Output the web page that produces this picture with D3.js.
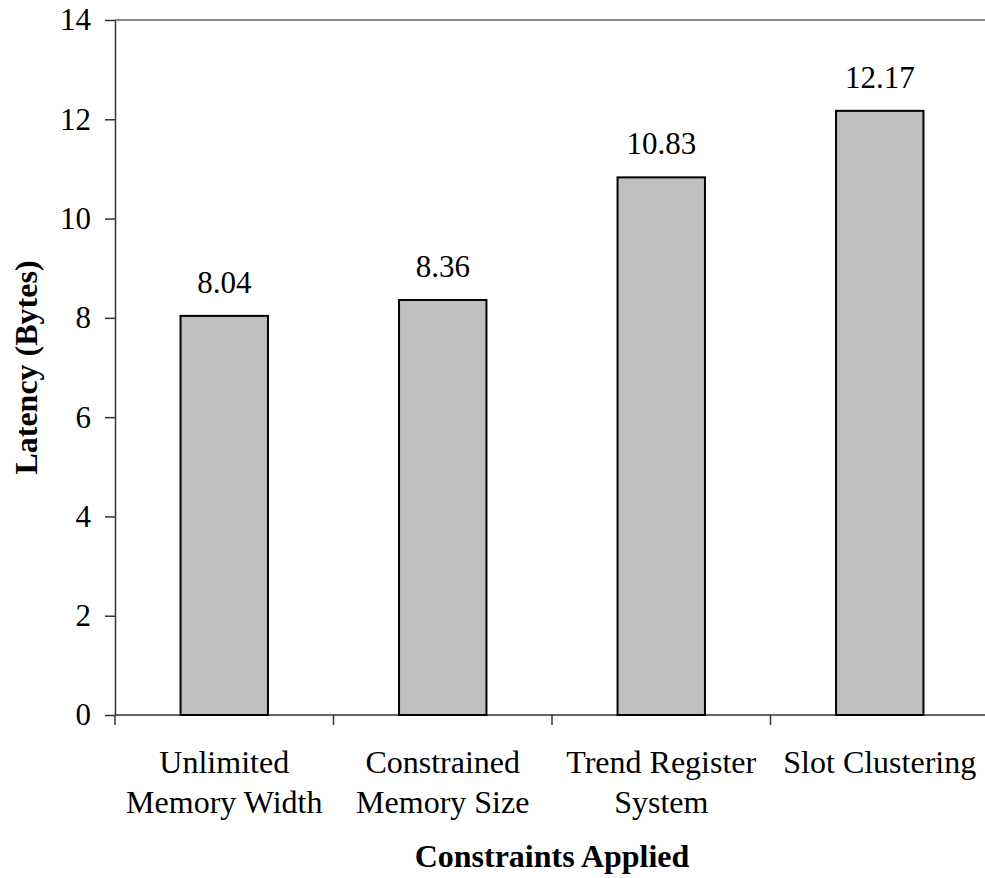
<html>
<head>
<style>
    body { margin: 0; background: #fff; }
    text { font-family: "Liberation Serif", "Times New Roman", serif; fill: #000; }
    .axis path, .axis line { stroke: #333; stroke-width: 1.5; }
    .bar { fill: #c0c0c0; stroke: #000; stroke-width: 2; }
</style>
</head>
<body>
<svg id="chart" width="985" height="878"></svg>
<script src="https://d3js.org/d3.v7.min.js"></script>
<script>
    let categories = [["Unlimited", "Memory Width"], ["Constrained", "Memory Size"], ["Trend Register", "System"], ["Slot Clustering"]]
    let values = [8.04, 8.36, 10.83, 12.17]
    let yTicks = [0, 2, 4, 6, 8, 10, 12, 14]

    let svg = d3.select("#chart")
    let plotLeft = 115, plotRight = 989, plotTop = 20, plotBottom = 715
    let fs = "31px"

    let keys = categories.map(c => c.join(" "))
    let x = d3.scaleBand().domain(keys).range([plotLeft, plotRight]).paddingInner(0.6).paddingOuter(0.3)
    let y = d3.scaleLinear().domain([0, 14]).range([plotBottom, plotTop])

    // top border of plot area
    svg.append("line")
        .attr("x1", plotLeft).attr("x2", plotRight)
        .attr("y1", y(14)).attr("y2", y(14))
        .attr("stroke", "#888").attr("stroke-width", 2)

    let yAxis = svg.append("g").attr("class", "axis")
        .attr("transform", `translate(${plotLeft},0)`)
        .call(d3.axisLeft(y).tickValues(yTicks).tickSize(10).tickSizeOuter(0).tickPadding(14))
    yAxis.selectAll("text").style("font-size", fs).attr("font-family", null).attr("fill", "#000")

    // x axis line with ticks at band boundaries
    let xAxis = svg.append("g").attr("class", "axis")
    xAxis.append("line")
        .attr("x1", plotLeft).attr("x2", plotRight)
        .attr("y1", plotBottom).attr("y2", plotBottom)
    let bounds = keys.map(k => x(k) - x.step() * x.paddingInner() / 2).concat([plotRight])
    bounds[0] = plotLeft
    xAxis.selectAll(".tk").data(bounds).enter().append("line")
        .attr("x1", d => d).attr("x2", d => d)
        .attr("y1", plotBottom).attr("y2", plotBottom + 10)

    svg.selectAll(".bar").data(values).enter().append("rect")
        .attr("class", "bar")
        .attr("x", (d, i) => x(keys[i]))
        .attr("width", x.bandwidth())
        .attr("y", d => y(d))
        .attr("height", d => y(0) - y(d))

    svg.selectAll(".val").data(values).enter().append("text")
        .attr("x", (d, i) => x(keys[i]) + x.bandwidth() / 2)
        .attr("y", d => y(d) - 23)
        .attr("text-anchor", "middle")
        .style("font-size", fs)
        .text(d => d.toFixed(2))

    let cat = svg.selectAll(".cat").data(categories).enter().append("text")
        .attr("text-anchor", "middle")
        .style("font-size", "32px")
        .attr("y", 773)
    cat.selectAll("tspan").data((d, i) => d.map(t => ({ t, i }))).enter().append("tspan")
        .attr("x", d => x(keys[d.i]) + x.bandwidth() / 2)
        .attr("dy", (d, j) => j ? 40 : 0)
        .text(d => d.t)

    svg.append("text")
        .attr("x", (plotLeft + plotRight) / 2).attr("y", 867)
        .attr("text-anchor", "middle")
        .style("font-size", "32px").style("font-weight", "bold")
        .text("Constraints Applied")

    svg.append("text")
        .attr("transform", `translate(37,${(plotTop + plotBottom) / 2}) rotate(-90)`)
        .attr("text-anchor", "middle")
        .style("font-size", "32px").style("font-weight", "bold")
        .text("Latency (Bytes)")
</script>
</body>
</html>
